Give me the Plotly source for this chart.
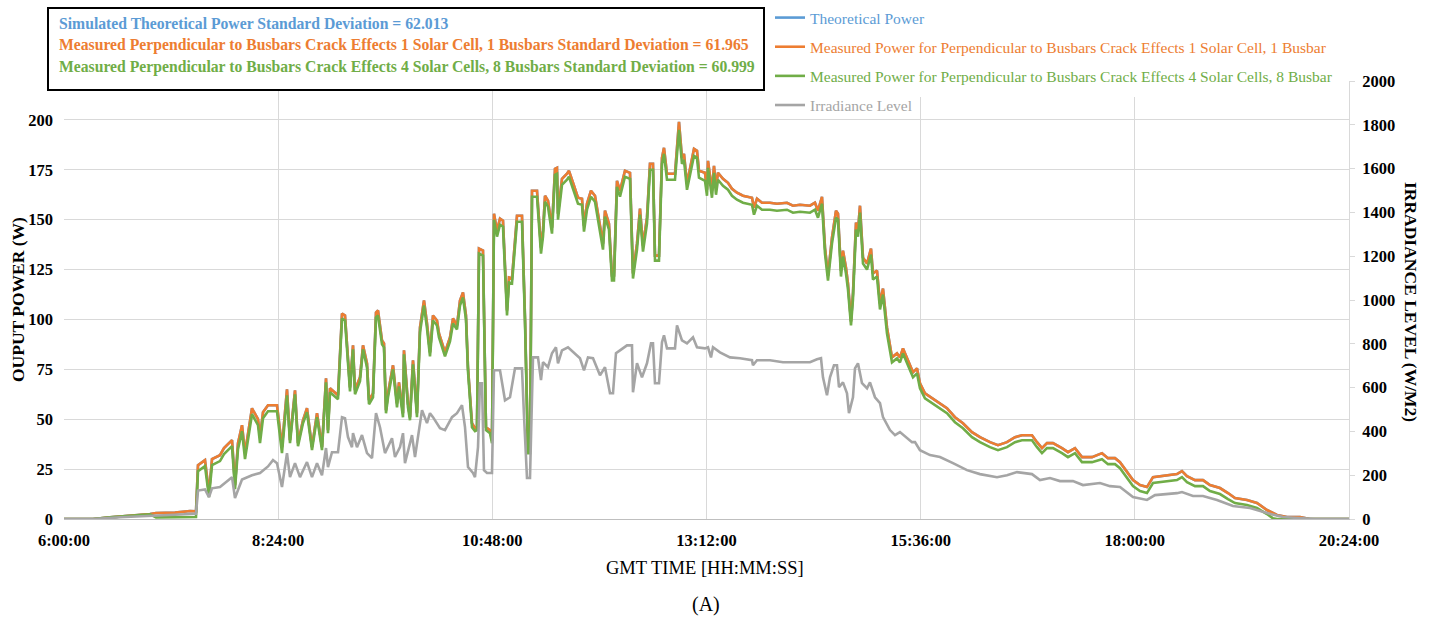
import plotly.graph_objects as go

# ---------------- data ----------------
time_power = [
    "06:00:00", "06:19:30", "06:30:56", "06:44:23", "06:57:49", "07:01:52", "07:14:38", "07:24:43", "07:28:45", "07:30:06",
    "07:34:48", "07:37:29", "07:39:31", "07:44:53", "07:47:35", "07:52:58", "07:54:58", "07:56:59", "07:59:41", "08:01:42",
    "08:06:24", "08:10:26", "08:11:47", "08:13:48", "08:17:10", "08:23:13", "08:26:34", "08:29:56", "08:31:57", "08:35:19",
    "08:37:20", "08:40:41", "08:43:23", "08:46:45", "08:50:07", "08:53:28", "08:56:10", "08:57:30", "08:58:51", "09:04:14",
    "09:06:55", "09:08:56", "09:10:17", "09:12:18", "09:14:19", "09:15:40", "09:19:01", "09:21:02", "09:23:44", "09:25:04",
    "09:27:46", "09:29:47", "09:31:07", "09:33:49", "09:35:09", "09:36:30", "09:37:51", "09:41:13", "09:43:54", "09:45:14",
    "09:47:56", "09:48:36", "09:51:17", "09:52:38", "09:54:39", "09:57:20", "09:59:22", "10:02:03", "10:04:04", "10:06:05",
    "10:08:06", "10:10:47", "10:12:08", "10:16:10", "10:19:32", "10:21:33", "10:24:14", "10:26:15", "10:28:16", "10:30:17",
    "10:31:38", "10:34:19", "10:36:20", "10:37:41", "10:39:02", "10:41:43", "10:43:44", "10:46:26", "10:47:46", "10:49:07",
    "10:51:08", "10:53:09", "10:55:10", "10:57:52", "10:59:12", "11:01:13", "11:04:35", "11:07:56", "11:09:58", "11:11:59",
    "11:13:19", "11:14:40", "11:18:02", "11:20:43", "11:22:04", "11:23:25", "11:25:25", "11:28:07", "11:30:08", "11:31:28",
    "11:32:09", "11:34:50", "11:38:12", "11:39:32", "11:42:14", "11:45:35", "11:48:17", "11:49:38", "11:51:38", "11:54:20",
    "11:57:01", "12:00:23", "12:02:24", "12:03:45", "12:06:26", "12:08:27", "12:09:48", "12:11:49", "12:13:50", "12:17:11",
    "12:20:34", "12:22:34", "12:25:16", "12:27:17", "12:29:18", "12:31:59", "12:34:00", "12:36:01", "12:37:22", "12:40:03",
    "12:42:04", "12:43:25", "12:45:26", "12:50:49", "12:52:10", "12:53:30", "12:55:31", "12:56:52", "12:58:53", "13:00:54",
    "13:03:35", "13:05:36", "13:06:57", "13:10:59", "13:12:20", "13:13:00", "13:15:41", "13:17:02", "13:18:23", "13:19:43",
    "13:23:05", "13:26:27", "13:29:08", "13:32:30", "13:36:32", "13:42:35", "13:43:56", "13:45:57", "13:49:19", "13:54:41",
    "13:59:23", "14:06:07", "14:10:09", "14:14:52", "14:21:35", "14:24:56", "14:26:58", "14:29:39", "14:31:40", "14:33:41",
    "14:36:22", "14:39:04", "14:40:25", "14:42:25", "14:43:46", "14:45:47", "14:47:08", "14:49:09", "14:50:29", "14:52:31",
    "14:53:51", "14:55:12", "14:57:13", "14:59:55", "15:02:36", "15:03:56", "15:06:38", "15:08:39", "15:10:40", "15:13:21",
    "15:16:43", "15:20:05", "15:22:05", "15:24:07", "15:27:28", "15:30:50", "15:33:31", "15:35:32", "15:38:54", "15:43:37",
    "15:48:59", "15:53:41", "15:59:04", "16:04:27", "16:10:30", "16:15:53", "16:22:37", "16:27:59", "16:34:02", "16:39:25",
    "16:44:07", "16:50:50", "16:54:13", "16:57:34", "17:00:56", "17:04:58", "17:11:01", "17:15:03", "17:19:46", "17:24:28",
    "17:31:11", "17:37:55", "17:41:56", "17:46:39", "17:50:01", "17:54:43", "17:58:45", "18:03:28", "18:08:10", "18:12:12",
    "18:21:37", "18:28:20", "18:31:42", "18:35:04", "18:40:26", "18:45:49", "18:50:31", "18:57:15", "19:02:38", "19:07:20",
    "19:15:24", "19:22:08", "19:28:51", "19:32:53", "19:35:34", "19:42:18", "19:51:02", "19:57:46", "20:24:00",
]

power_theoretical = [
    0, 0, 0.8, 1.5, 2.5, 3.0, 3.2, 4.0, 3.8, 27.0,
    29.5, 13.0, 30.0, 32.0, 35.5, 39.5, 17.0, 38.0, 47.0, 33.0,
    55.5, 50.0, 41.0, 53.5, 57.0, 57.0, 36.0, 65.0, 39.5, 64.5,
    38.0, 49.5, 55.5, 36.0, 53.0, 36.0, 70.5, 44.5, 65.5, 62.0,
    103.0, 102.0, 86.0, 66.0, 87.0, 64.5, 71.0, 87.0, 78.0, 59.5,
    63.0, 103.5, 104.5, 89.5, 88.0, 54.5, 63.0, 77.0, 58.0, 68.5,
    53.0, 84.5, 58.0, 51.0, 79.5, 53.0, 96.0, 109.5, 98.0, 83.5,
    102.0, 99.5, 93.0, 83.5, 91.0, 100.5, 97.0, 109.5, 113.5, 102.0,
    76.0, 48.0, 45.5, 46.0, 135.5, 134.5, 46.0, 44.5, 39.5, 153.0,
    144.5, 150.5, 149.5, 104.5, 121.0, 120.5, 152.0, 152.0, 101.0, 34.5,
    34.5, 164.5, 164.5, 136.0, 144.5, 162.0, 159.5, 146.0, 175.5, 176.0,
    153.0, 170.5, 173.0, 174.5, 168.5, 161.0, 160.5, 147.0, 158.0, 164.5,
    162.0, 148.0, 138.0, 154.5, 148.0, 122.0, 122.0, 169.5, 164.5, 174.5,
    173.5, 123.0, 138.0, 155.5, 137.0, 151.0, 178.0, 178.0, 132.0, 132.0,
    181.0, 186.0, 173.0, 173.0, 184.5, 199.0, 181.0, 183.0, 168.0, 175.5,
    185.5, 184.5, 174.5, 173.5, 165.0, 179.5, 164.5, 177.0, 166.0, 173.5,
    170.5, 168.5, 165.5, 163.5, 162.0, 161.0, 156.0, 160.5, 158.5, 158.5,
    158.0, 158.5, 157.0, 157.5, 157.0, 158.5, 154.5, 161.5, 136.0, 122.0,
    141.0, 154.5, 153.0, 124.5, 134.5, 126.0, 118.0, 99.0, 113.0, 148.5,
    144.5, 157.0, 131.0, 128.0, 135.5, 123.0, 124.5, 108.0, 115.5, 96.0,
    81.0, 83.0, 81.0, 85.5, 79.5, 73.5, 75.5, 68.0, 63.0, 60.5,
    58.0, 55.5, 51.0, 48.0, 43.5, 41.0, 38.5, 37.0, 38.5, 41.0,
    42.0, 42.0, 38.5, 35.5, 38.0, 38.0, 35.5, 33.5, 35.5, 31.0,
    31.0, 33.0, 30.5, 30.5, 28.5, 23.5, 19.5, 17.0, 16.0, 21.0,
    22.0, 22.5, 24.0, 21.5, 19.5, 19.5, 17.0, 15.5, 13.0, 10.5,
    9.5, 8.0, 4.5, 3.0, 2.0, 1.0, 1.0, 0, 0,
]

power_1cell_1busbar = [
    0, 0, 0.8, 1.5, 2.5, 3.0, 3.2, 4.0, 3.8, 27.0,
    29.5, 13.0, 30.0, 32.0, 35.5, 39.5, 17.0, 38.0, 47.0, 33.0,
    55.5, 50.0, 41.0, 53.5, 57.0, 57.0, 36.0, 65.0, 39.5, 64.5,
    38.0, 49.5, 55.5, 36.0, 53.0, 36.0, 70.5, 44.5, 65.5, 62.0,
    103.0, 102.0, 86.0, 66.0, 87.0, 64.5, 71.0, 87.0, 78.0, 59.5,
    63.0, 103.5, 104.5, 89.5, 88.0, 54.5, 63.0, 77.0, 58.0, 68.5,
    53.0, 84.5, 58.0, 51.0, 79.5, 53.0, 96.0, 109.5, 98.0, 83.5,
    102.0, 99.5, 93.0, 83.5, 91.0, 100.5, 97.0, 109.5, 113.5, 102.0,
    76.0, 48.0, 45.5, 46.0, 135.5, 134.5, 46.0, 44.5, 39.5, 153.0,
    144.5, 150.5, 149.5, 104.5, 121.0, 120.5, 152.0, 152.0, 101.0, 34.5,
    34.5, 164.5, 164.5, 136.0, 144.5, 162.0, 159.5, 146.0, 175.5, 176.0,
    153.0, 170.5, 173.0, 174.5, 168.5, 161.0, 160.5, 147.0, 158.0, 164.5,
    162.0, 148.0, 138.0, 154.5, 148.0, 122.0, 122.0, 169.5, 164.5, 174.5,
    173.5, 123.0, 138.0, 155.5, 137.0, 151.0, 178.0, 178.0, 132.0, 132.0,
    181.0, 186.0, 173.0, 173.0, 184.5, 199.0, 181.0, 183.0, 168.0, 175.5,
    185.5, 184.5, 174.5, 173.5, 165.0, 179.5, 164.5, 177.0, 166.0, 173.5,
    170.5, 168.5, 165.5, 163.5, 162.0, 161.0, 156.0, 160.5, 158.5, 158.5,
    158.0, 158.5, 157.0, 157.5, 157.0, 158.5, 154.5, 161.5, 136.0, 122.0,
    141.0, 154.5, 153.0, 124.5, 134.5, 126.0, 118.0, 99.0, 113.0, 148.5,
    144.5, 157.0, 131.0, 128.0, 135.5, 123.0, 124.5, 108.0, 115.5, 96.0,
    81.0, 83.0, 81.0, 85.5, 79.5, 73.5, 75.5, 68.0, 63.0, 60.5,
    58.0, 55.5, 51.0, 48.0, 43.5, 41.0, 38.5, 37.0, 38.5, 41.0,
    42.0, 42.0, 38.5, 35.5, 38.0, 38.0, 35.5, 33.5, 35.5, 31.0,
    31.0, 33.0, 30.5, 30.5, 28.5, 23.5, 19.5, 17.0, 16.0, 21.0,
    22.0, 22.5, 24.0, 21.5, 19.5, 19.5, 17.0, 15.5, 13.0, 10.5,
    9.5, 8.0, 4.5, 3.0, 2.0, 1.0, 1.0, 0, 0,
]

power_4cells_8busbar = [
    0, 0, 0.8, 1.5, 2.3, 0.8, 1.0, 1.2, 1.0, 24.0,
    26.5, 11.0, 27.0, 29.0, 32.5, 36.5, 15.0, 35.0, 44.0, 30.0,
    52.5, 47.0, 38.0, 50.5, 54.0, 54.0, 33.0, 62.0, 38.0, 62.5,
    36.5, 48.0, 53.5, 34.5, 51.0, 34.5, 68.5, 43.0, 63.5, 60.0,
    100.5, 99.5, 84.0, 64.0, 85.0, 62.5, 69.0, 85.0, 76.0, 57.5,
    61.0, 101.0, 102.0, 87.5, 86.0, 53.0, 61.0, 75.0, 56.0, 66.5,
    51.0, 82.5, 56.0, 49.5, 77.5, 51.0, 93.5, 107.0, 95.5, 81.5,
    99.5, 97.0, 91.0, 81.5, 89.0, 98.0, 95.0, 107.0, 111.0, 100.0,
    74.0, 46.0, 44.0, 44.5, 133.0, 132.0, 44.5, 43.0, 38.0, 150.0,
    141.5, 147.5, 146.5, 102.0, 118.5, 118.0, 149.0, 149.0, 98.5, 33.0,
    33.0, 161.5, 161.5, 133.0, 141.5, 159.0, 156.5, 143.0, 172.5, 173.0,
    150.0, 167.5, 170.0, 171.5, 165.5, 158.0, 157.5, 144.0, 155.0, 161.5,
    159.0, 145.0, 135.0, 151.5, 145.0, 119.5, 119.5, 166.5, 161.5, 171.5,
    170.5, 120.5, 135.0, 152.5, 134.0, 148.0, 175.0, 175.0, 129.5, 129.5,
    178.0, 183.0, 170.0, 170.0, 181.5, 195.0, 178.0, 180.0, 165.0, 172.0,
    182.0, 181.0, 171.0, 169.5, 162.0, 176.0, 161.0, 173.5, 162.5, 170.0,
    167.0, 165.0, 162.0, 160.0, 158.5, 157.5, 152.5, 157.0, 155.0, 155.0,
    154.5, 155.0, 153.5, 154.0, 153.5, 155.0, 151.0, 158.0, 133.0, 119.5,
    138.0, 151.0, 150.0, 121.5, 131.5, 123.0, 115.0, 97.0, 110.0, 145.0,
    141.5, 153.5, 128.0, 125.0, 132.5, 120.0, 121.5, 105.0, 112.5, 93.0,
    78.5, 80.5, 78.5, 83.0, 77.0, 71.0, 73.0, 65.5, 60.5, 58.0,
    55.5, 53.0, 48.5, 45.5, 41.0, 38.5, 36.0, 34.5, 36.0, 38.5,
    39.5, 39.5, 36.0, 33.0, 35.5, 35.5, 33.0, 31.0, 33.0, 28.5,
    28.5, 30.0, 27.5, 27.5, 25.5, 20.5, 16.5, 14.0, 13.0, 18.0,
    19.0, 19.5, 21.0, 18.5, 16.5, 16.5, 14.0, 12.5, 10.0, 8.0,
    7.0, 5.5, 2.5, 0.3, 0, 0, 0, 0, 0,
]

time_irradiance = [
    "06:00:00", "06:19:30", "06:37:39", "06:57:49", "07:14:38", "07:28:45", "07:30:06", "07:34:48", "07:37:29", "07:39:31",
    "07:44:53", "07:52:58", "07:54:58", "07:59:41", "08:06:24", "08:11:47", "08:17:10", "08:20:31", "08:23:13", "08:26:34",
    "08:29:56", "08:31:57", "08:35:19", "08:38:41", "08:43:23", "08:46:45", "08:50:07", "08:53:28", "08:56:10", "08:57:30",
    "09:00:11", "09:04:14", "09:06:55", "09:08:56", "09:10:57", "09:13:38", "09:14:19", "09:17:00", "09:20:22", "09:23:44",
    "09:27:05", "09:29:47", "09:32:28", "09:35:50", "09:40:32", "09:42:33", "09:45:55", "09:47:56", "09:49:16", "09:53:59",
    "09:56:00", "10:00:42", "10:04:04", "10:06:05", "10:08:06", "10:12:49", "10:16:10", "10:20:53", "10:24:14", "10:27:36",
    "10:29:37", "10:31:38", "10:34:59", "10:36:20", "10:38:22", "10:39:42", "10:41:03", "10:42:23", "10:44:25", "10:46:26",
    "10:47:46", "10:49:07", "10:53:09", "10:56:31", "10:59:52", "11:03:14", "11:07:56", "11:09:17", "11:11:18", "11:13:19",
    "11:15:20", "11:18:42", "11:20:43", "11:22:04", "11:25:25", "11:28:07", "11:30:48", "11:32:09", "11:34:50", "11:38:52",
    "11:43:35", "11:46:56", "11:49:38", "11:52:19", "11:55:41", "12:00:23", "12:03:45", "12:07:07", "12:09:08", "12:11:08",
    "12:13:50", "12:18:32", "12:21:54", "12:22:34", "12:25:16", "12:28:37", "12:31:59", "12:34:41", "12:36:01", "12:37:22",
    "12:40:03", "12:42:04", "12:43:25", "12:45:26", "12:50:49", "12:52:10", "12:55:31", "12:58:53", "13:02:55", "13:05:36",
    "13:10:59", "13:13:00", "13:15:01", "13:16:22", "13:21:04", "13:27:47", "13:34:31", "13:42:35", "13:43:15", "13:45:57",
    "13:54:41", "14:03:26", "14:12:50", "14:21:35", "14:26:17", "14:28:59", "14:30:19", "14:33:01", "14:35:02", "14:37:43",
    "14:39:44", "14:41:05", "14:43:46", "14:46:28", "14:47:48", "14:50:29", "14:51:50", "14:53:51", "14:56:33", "14:59:55",
    "15:01:55", "15:05:17", "15:08:39", "15:10:40", "15:15:22", "15:18:44", "15:22:05", "15:26:48", "15:30:10", "15:32:11",
    "15:35:32", "15:42:16", "15:48:59", "15:57:44", "16:07:08", "16:15:53", "16:27:19", "16:34:02", "16:40:46", "16:50:50",
    "16:56:13", "17:02:57", "17:09:40", "17:18:25", "17:25:08", "17:36:34", "17:43:17", "17:50:01", "17:58:45", "18:08:10",
    "18:13:32", "18:28:20", "18:31:42", "18:39:05", "18:45:49", "18:55:14", "19:05:59", "19:17:25", "19:28:51", "19:39:36",
    "19:51:02", "20:01:07", "20:24:00",
]

irradiance = [
    0, 0, 8, 15, 20, 24, 130, 135, 100, 140,
    146, 191, 96, 180, 200, 210, 240, 269, 255, 146,
    301, 191, 255, 191, 260, 191, 255, 200, 324, 237,
    305, 305, 465, 460, 374, 328, 392, 328, 383, 301,
    278, 483, 419, 301, 369, 283, 328, 392, 255, 383,
    283, 497, 438, 483, 465, 415, 406, 465, 483, 520,
    420, 237, 210, 191, 328, 620, 620, 223, 210, 210,
    210, 679, 679, 542, 556, 688, 688, 474, 187, 187,
    738, 738, 634, 716, 693, 757, 784, 711, 770, 784,
    757, 734, 679, 738, 734, 656, 693, 574, 574, 757,
    770, 793, 793, 579, 711, 647, 711, 802, 802, 620,
    620, 807, 839, 779, 779, 884, 816, 802, 830, 784,
    779, 784, 738, 784, 761, 738, 734, 725, 702, 725,
    725, 716, 716, 716, 729, 734, 647, 565, 647, 702,
    702, 602, 624, 574, 483, 556, 688, 711, 620, 597,
    624, 556, 529, 465, 406, 383, 397, 369, 351, 351,
    314, 292, 283, 255, 223, 205, 191, 200, 214, 205,
    178, 187, 173, 173, 155, 164, 150, 146, 100, 87,
    109, 118, 123, 105, 105, 87, 59, 50, 27, 9,
    5, 0, 0,
]

series_names = [
    "Theoretical Power",
    "Measured Power for Perpendicular to Busbars Crack Effects 1 Solar Cell, 1 Busbar",
    "Measured Power for Perpendicular to Busbars Crack Effects 4 Solar Cells, 8 Busbar",
    "Irradiance Level",
]
stats_lines = [
    "Simulated Theoretical Power Standard Deviation = 62.013",
    "Measured Perpendicular to Busbars Crack Effects 1 Solar Cell, 1 Busbars Standard Deviation = 61.965",
    "Measured Perpendicular to Busbars Crack Effects 4 Solar Cells, 8 Busbars Standard Deviation = 60.999",
]

# ---------------- styling ----------------
DAY = "2024-01-01 "
BLUE, ORANGE, GREEN, GRAY = "#5B9BD5", "#ED7D31", "#70AD47", "#A5A5A5"
FONT = "Liberation Serif"
GRID = "#D9D9D9"

xp = [DAY + t for t in time_power]
xi = [DAY + t for t in time_irradiance]

fig = go.Figure()
specs = [
    (power_theoretical, BLUE, "y", series_names[0]),
    (power_1cell_1busbar, ORANGE, "y", series_names[1]),
    (power_4cells_8busbar, GREEN, "y", series_names[2]),
]
for i, (vals, col, ax, nm) in enumerate(specs):
    fig.add_trace(go.Scatter(
        x=xp, y=vals, mode="lines", yaxis=ax,
        line=dict(color=col, width=2.6),
        name=f"<span style='color:{col}'>{nm}</span>",
        legendgroup=f"g{i}",
    ))
fig.add_trace(go.Scatter(
    x=xi, y=irradiance, mode="lines", yaxis="y2",
    line=dict(color=GRAY, width=2.6),
    name=f"<span style='color:{GRAY}'>{series_names[3]}</span>",
    legendgroup="g3",
))

L, R, T, B = 64, 80, 81, 102
W, H = 1429, 621
PW, PH = W - L - R, H - T - B


def px(xpix):
    return (xpix - L) / PW


def py(ypix):
    return (H - B - ypix) / PH


tickfont = dict(family=FONT, size=16.5, color="black", weight="bold")

fig.update_layout(
    width=W, height=H,
    margin=dict(l=L, r=R, t=T, b=B, autoexpand=False),
    paper_bgcolor="white", plot_bgcolor="white",
    showlegend=True,
    legend=dict(
        x=px(770), y=py(1), xanchor="left", yanchor="top",
        font=dict(family=FONT, size=15.5),
        bgcolor="rgba(255,255,255,0)",
        itemwidth=30, tracegroupgap=6,
        traceorder="grouped",
    ),
    xaxis=dict(
        type="date",
        range=[DAY + "06:00:00", DAY + "20:24:00"],
        tick0=DAY + "06:00:00", dtick=8640000,
        tickformat="%-H:%M:%S",
        showgrid=True, gridcolor=GRID, gridwidth=1,
        showline=True, linecolor="#BFBFBF", linewidth=1,
        ticks="", tickfont=tickfont, ticklabelstandoff=6,
    ),
    yaxis=dict(
        range=[0, 219.5], tick0=0, dtick=25,
        showgrid=True, gridcolor=GRID, gridwidth=1,
        zeroline=False, showline=False, ticks="",
        tickfont=tickfont, ticklabelstandoff=10,
    ),
    yaxis2=dict(
        overlaying="y", side="right",
        range=[0, 2000], tick0=0, dtick=200,
        showgrid=False, zeroline=False,
        showline=True, linecolor=GRID, linewidth=1,
        ticks="outside", ticklen=5, tickcolor=GRID,
        tickfont=tickfont, ticklabelstandoff=4,
    ),
    shapes=[
        dict(
            type="rect", xref="paper", yref="paper",
            x0=px(770), x1=px(1346), y0=py(97), y1=py(80),
            line=dict(width=0), fillcolor="white", layer="above",
        ),
        dict(
            type="rect", xref="paper", yref="paper",
            x0=px(48), x1=px(764), y0=py(90), y1=py(8),
            line=dict(color="black", width=2), fillcolor="white", layer="above",
        ),
    ],
)

annotations = []
for txt, col, yc in zip(stats_lines, [BLUE, ORANGE, GREEN], [23, 45, 67]):
    annotations.append(dict(
        text=f"<b>{txt}</b>", xref="paper", yref="paper",
        x=px(57), y=py(yc), xanchor="left", yanchor="middle",
        showarrow=False, font=dict(family=FONT, size=15.7, color=col),
    ))
annotations += [
    dict(text="<b>OUPUT POWER (W)</b>", xref="paper", yref="paper",
         x=px(18), y=py(300), xanchor="center", yanchor="middle", textangle=-90,
         showarrow=False, font=dict(family=FONT, size=17.5, color="black")),
    dict(text="<b>IRRADIANCE LEVEL (W/M2)</b>", xref="paper", yref="paper",
         x=px(1411), y=py(302), xanchor="center", yanchor="middle", textangle=90,
         showarrow=False, font=dict(family=FONT, size=17.5, color="black")),
    dict(text="GMT TIME [HH:MM:SS]", xref="paper", yref="paper",
         x=px(705), y=py(568), xanchor="center", yanchor="middle",
         showarrow=False, font=dict(family=FONT, size=18.5, color="black")),
    dict(text="(A)", xref="paper", yref="paper",
         x=px(706), y=py(604), xanchor="center", yanchor="middle",
         showarrow=False, font=dict(family=FONT, size=20, color="black")),
]
fig.update_layout(annotations=annotations)

fig.write_html("out.html")
